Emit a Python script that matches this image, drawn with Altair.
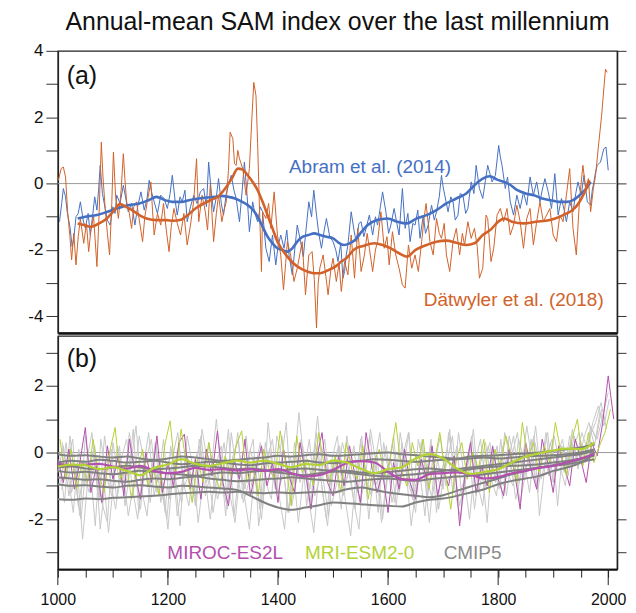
import altair as alt
import pandas as pd

# ---------------------------------------------------------------- data
TITLE = "Annual-mean SAM index over the last millennium"
YEAR_DOMAIN = [1000, 2016]
A_DOMAIN = [-4.5, 4]
B_DOMAIN = [-3.5, 3.5]
MAJOR_YEARS = [1000, 1200, 1400, 1600, 1800, 2000]
MINOR_YEARS = list(range(1000, 2001, 50))

# Panel (a): reconstructions, [year, SAM index]
ABRAM_ANNUAL = [
    [1003, -1.15], [1007, -0.60], [1010, -0.15], [1014, -0.40], [1017, -0.85], [1022, -1.30], [1026, -1.90],
    [1029, -1.65], [1033, -1.00], [1037, -0.90], [1041, -0.55], [1046, -1.10], [1050, -1.35], [1055, -0.90],
    [1059, -1.55], [1063, -1.00], [1067, -0.40], [1071, -0.80], [1074, -0.20], [1077, 0.55], [1081, -0.30],
    [1086, -0.75], [1090, -1.10], [1095, -1.25], [1100, -0.70], [1104, -0.90], [1107, -0.35], [1113, -0.60],
    [1119, -0.05], [1124, -0.50], [1128, -0.85], [1134, -0.60], [1140, -1.25], [1145, -0.70], [1151, -0.25],
    [1157, -0.80], [1162, -0.45], [1166, 0.10], [1171, -0.30], [1175, -0.55], [1181, -0.90], [1187, -0.35],
    [1193, -0.45], [1199, -0.75], [1204, -0.30], [1208, 0.25], [1213, -0.50], [1217, -0.95], [1222, -0.40],
    [1226, -0.55], [1231, -0.20], [1235, -1.15], [1241, -0.70], [1247, -0.35], [1253, -0.60], [1259, -0.25],
    [1265, -0.15], [1270, -0.70], [1274, 0.65], [1279, -0.30], [1283, -0.85], [1288, -0.40], [1292, 0.15],
    [1297, -0.60], [1301, -0.95], [1306, -0.30], [1310, -0.05], [1315, 0.25], [1320, -0.20], [1324, -0.45],
    [1330, -1.15], [1335, -0.20], [1339, 0.65], [1344, -0.40], [1348, -1.45], [1354, -0.55], [1358, -0.90],
    [1363, -1.15], [1368, -0.70], [1372, -0.85], [1378, -1.95], [1384, -2.35], [1390, -1.55], [1396, -2.45],
    [1400, -1.90], [1405, -1.55], [1411, -1.95], [1416, -1.40], [1420, -2.15], [1426, -2.75], [1431, -1.90],
    [1435, -1.25], [1441, -1.75], [1446, -2.20], [1450, -1.55], [1456, -0.55], [1461, -1.00], [1465, -0.20],
    [1470, -0.95], [1474, -1.50], [1479, -1.95], [1484, -1.40], [1488, -1.05], [1494, -1.60], [1500, -1.75],
    [1505, -2.00], [1509, -2.35], [1514, -1.80], [1518, -2.85], [1521, -2.65], [1524, -2.15], [1527, -1.85],
    [1533, -0.85], [1538, -1.40], [1542, -1.75], [1547, -1.20], [1551, -1.15], [1556, -1.60], [1560, -1.35],
    [1566, -0.95], [1572, -1.55], [1577, -1.00], [1581, -1.25], [1586, -0.70], [1590, -0.25], [1596, -0.85],
    [1601, -1.50], [1605, -1.25], [1611, -0.75], [1616, -1.20], [1620, -1.55], [1626, -0.15], [1631, -1.35],
    [1636, -0.90], [1640, -1.75], [1645, -1.20], [1649, -1.25], [1654, -0.80], [1658, -1.65], [1664, -0.95],
    [1668, -1.50], [1673, -1.25], [1679, -0.65], [1684, -1.10], [1688, -0.85], [1693, -0.40], [1697, 0.25],
    [1700, -0.10], [1703, -0.35], [1709, -0.85], [1714, -0.40], [1718, -0.55], [1722, -1.10], [1727, -0.95],
    [1731, -0.30], [1736, -0.35], [1741, -0.90], [1745, -0.75], [1751, 0.05], [1756, -0.30], [1760, 0.55],
    [1763, 0.20], [1766, -0.15], [1772, -0.45], [1777, 0.10], [1781, 0.55], [1785, 0.30], [1789, 0.05],
    [1795, 0.25], [1801, 1.15], [1804, 0.80], [1807, 0.55], [1813, -0.15], [1817, 0.20], [1822, -0.55],
    [1828, -0.95], [1834, -0.35], [1840, -0.75], [1846, -0.25], [1852, -0.65], [1858, 0.20], [1864, -0.35],
    [1870, 0.05], [1876, -0.55], [1880, -0.20], [1885, 0.15], [1891, -0.25], [1897, -0.75], [1903, 0.30],
    [1909, -0.95], [1915, -0.45], [1920, -0.80], [1924, -1.15], [1930, -0.55], [1936, -0.85], [1941, -0.30],
    [1945, 0.05], [1951, -0.35], [1956, 0.25], [1962, -0.55], [1968, -0.65], [1971, -0.20], [1974, 0.05],
    [1977, 0.35], [1980, 0.55], [1986, 0.65], [1989, 0.85], [1992, 1.05], [1996, 1.10], [2000, 0.40],
]
ABRAM_SMOOTH = [
    [1036, -1.05], [1050, -1.00], [1071, -0.95], [1090, -0.85], [1107, -0.75], [1128, -0.65], [1148, -0.60],
    [1165, -0.50], [1179, -0.40], [1195, -0.50], [1208, -0.55], [1225, -0.55], [1238, -0.50], [1256, -0.45],
    [1270, -0.42], [1285, -0.40], [1297, -0.37], [1310, -0.40], [1322, -0.45], [1335, -0.55], [1345, -0.65],
    [1355, -0.80], [1363, -1.00], [1372, -1.30], [1381, -1.60], [1390, -1.80], [1399, -1.95], [1408, -2.00],
    [1417, -2.05], [1426, -1.95], [1435, -1.75], [1445, -1.60], [1455, -1.55], [1466, -1.50], [1476, -1.55],
    [1488, -1.60], [1500, -1.65], [1512, -1.80], [1520, -1.85], [1530, -1.80], [1540, -1.70], [1552, -1.45],
    [1563, -1.25], [1580, -1.10], [1599, -1.05], [1617, -1.15], [1634, -1.20], [1652, -1.05], [1670, -0.95],
    [1688, -0.80], [1706, -0.60], [1724, -0.45], [1742, -0.30], [1757, -0.05], [1772, 0.15], [1785, 0.22],
    [1798, 0.12], [1811, 0.05], [1823, -0.05], [1835, -0.20], [1850, -0.30], [1865, -0.35], [1880, -0.45],
    [1895, -0.50], [1910, -0.55], [1925, -0.55], [1936, -0.50], [1948, -0.35], [1960, -0.15], [1968, 0.05],
]
DATWYLER_ANNUAL = [
    [1001, 0.10], [1006, 0.45], [1010, 0.50], [1014, 0.20], [1018, -0.90], [1022, -1.60], [1025, -2.30],
    [1029, -1.50], [1033, -2.45], [1037, -1.60], [1041, -1.05], [1047, -1.80], [1052, -1.20], [1056, -2.05],
    [1060, -1.40], [1065, -1.00], [1071, -2.50], [1075, -0.90], [1079, 1.25], [1082, 0.20], [1086, -0.75],
    [1090, -1.50], [1094, -2.15], [1098, -0.60], [1101, 0.95], [1105, -0.40], [1110, -1.05], [1115, -0.20],
    [1119, 0.90], [1122, 0.10], [1125, -0.55], [1130, -0.90], [1134, -1.35], [1138, -0.70], [1143, -0.55],
    [1148, -1.10], [1154, -1.75], [1158, -1.00], [1163, -0.50], [1169, 0.05], [1172, -0.80], [1175, -1.55],
    [1181, -0.90], [1187, -1.25], [1192, -0.60], [1197, -1.40], [1202, -2.05], [1206, -1.30], [1211, -0.75],
    [1217, -1.20], [1223, -1.55], [1229, -0.90], [1235, -1.85], [1241, -1.25], [1247, -0.50], [1252, 0.75],
    [1256, -1.15], [1262, -0.35], [1268, -0.85], [1272, -1.40], [1277, -0.05], [1283, -1.75], [1288, -0.90],
    [1292, -0.35], [1298, -1.15], [1302, -0.80], [1306, -0.55], [1310, 0.40], [1313, 1.55], [1318, 1.35],
    [1321, 0.60], [1324, 0.55], [1327, 1.00], [1330, 0.75], [1336, 0.45], [1342, -0.35], [1348, 0.45],
    [1352, 1.80], [1356, 3.05], [1360, 2.65], [1363, 1.20], [1366, -0.55], [1370, -2.65], [1372, -0.85],
    [1378, -1.05], [1383, -0.60], [1387, -1.35], [1393, -0.25], [1399, -1.55], [1405, -2.15], [1410, -3.20],
    [1414, -2.40], [1417, -1.75], [1423, -2.15], [1429, -2.95], [1435, -2.55], [1440, -2.10], [1444, -1.75],
    [1450, -3.35], [1456, -2.15], [1462, -2.05], [1466, -2.90], [1470, -4.35], [1473, -3.00], [1476, -2.55],
    [1482, -2.15], [1487, -2.80], [1491, -3.35], [1496, -2.60], [1500, -2.25], [1506, -2.95], [1511, -2.40],
    [1515, -3.25], [1521, -2.35], [1527, -2.75], [1533, -1.55], [1539, -2.85], [1545, -1.35], [1551, -2.65],
    [1557, -2.15], [1562, -1.50], [1566, -1.95], [1572, -2.65], [1577, -2.00], [1581, -1.75], [1587, -0.85],
    [1593, -1.95], [1598, -1.60], [1602, -2.45], [1608, -1.45], [1614, -2.15], [1620, -2.55], [1626, -3.05],
    [1631, -3.15], [1637, -1.85], [1643, -2.55], [1649, -2.15], [1655, -2.65], [1661, -1.75], [1665, -1.10],
    [1669, -0.60], [1673, -1.20], [1676, -1.75], [1682, -2.15], [1688, -1.05], [1693, -1.50], [1697, -1.65],
    [1702, -1.20], [1706, -2.15], [1712, -2.65], [1718, -1.75], [1724, -1.35], [1730, -2.15], [1735, -1.50],
    [1739, -1.85], [1745, -1.15], [1751, -1.65], [1757, -1.35], [1762, -1.90], [1766, -2.85], [1772, -2.55],
    [1778, -0.95], [1781, -1.05], [1787, -2.35], [1792, -1.95], [1798, -0.95], [1804, -0.75], [1810, -1.15],
    [1816, -0.75], [1822, -1.55], [1828, -1.25], [1834, -0.65], [1840, -1.15], [1846, -1.95], [1852, -1.05],
    [1858, -0.75], [1864, -1.85], [1870, -1.15], [1876, -0.55], [1882, -1.15], [1888, -0.95], [1894, -0.75],
    [1900, -1.55], [1906, -1.75], [1912, -0.95], [1918, -1.15], [1924, -0.35], [1930, 0.45], [1936, -1.35],
    [1942, -2.15], [1948, -0.45], [1954, 0.55], [1959, -0.15], [1964, 0.15], [1968, -0.85], [1973, -0.15],
    [1977, 0.25], [1983, 1.25], [1988, 2.05], [1992, 2.85], [1995, 3.45], [1998, 3.35],
]
DATWYLER_SMOOTH = [
    [1036, -1.20], [1048, -1.25], [1059, -1.30], [1075, -1.20], [1089, -1.05], [1100, -0.85], [1113, -0.62],
    [1124, -0.70], [1135, -0.80], [1148, -0.95], [1161, -1.05], [1180, -1.10], [1197, -1.10], [1210, -1.12],
    [1222, -1.10], [1236, -0.95], [1250, -0.75], [1265, -0.60], [1280, -0.48], [1292, -0.38], [1304, -0.15],
    [1316, 0.15], [1327, 0.45], [1336, 0.42], [1345, 0.25], [1354, 0.05], [1363, -0.20], [1372, -0.55],
    [1381, -0.95], [1390, -1.35], [1399, -1.75], [1408, -2.00], [1417, -2.20], [1428, -2.40], [1440, -2.55],
    [1453, -2.65], [1465, -2.70], [1476, -2.70], [1490, -2.62], [1506, -2.48], [1515, -2.35], [1524, -2.25],
    [1539, -1.98], [1555, -1.88], [1575, -1.80], [1590, -1.85], [1605, -1.95], [1620, -2.10], [1634, -2.20],
    [1650, -2.00], [1670, -1.85], [1688, -1.75], [1706, -1.72], [1724, -1.78], [1742, -1.85], [1757, -1.80],
    [1772, -1.55], [1787, -1.38], [1800, -1.15], [1811, -1.05], [1825, -1.15], [1846, -1.20], [1869, -1.15],
    [1894, -1.10], [1918, -0.95], [1935, -0.80], [1946, -0.60], [1956, -0.30], [1966, 0.10],
]

# Panel (b): model simulations
SMOOTH_YEARS = list(range(1000, 1976, 25))
MIROC_SMOOTH = [-0.34, -0.38, -0.36, -0.34, -0.42, -0.48, -0.40, -0.55, -0.62, -0.58, -0.46, -0.52, -0.50, -0.54,
                -0.50, -0.55, -0.50, -0.62, -0.72, -0.68, -0.52, -0.32, -0.26, -0.30, -0.58, -0.80, -0.82, -0.65,
                -0.62, -0.60, -0.66, -0.78, -0.74, -0.62, -0.55, -0.46, -0.40, -0.30, -0.18, -0.05]
MRI_SMOOTH = [-0.42, -0.36, -0.38, -0.50, -0.44, -0.55, -0.68, -0.46, -0.36, -0.20, -0.34, -0.40, -0.32, -0.24,
              -0.30, -0.24, -0.34, -0.44, -0.34, -0.38, -0.24, -0.30, -0.48, -0.62, -0.50, -0.44, -0.18, -0.05,
              -0.18, -0.48, -0.64, -0.58, -0.50, -0.30, -0.12, -0.02, 0.06, 0.12, 0.10, 0.30]
CMIP5_SMOOTH = [
    [-0.05, -0.10, -0.08, -0.12, -0.15, -0.12, -0.18, -0.22, -0.18, -0.12, -0.15, -0.20, -0.25, -0.22, -0.18,
     -0.15, -0.10, -0.12, -0.08, -0.05, -0.10, -0.08, -0.05, -0.02, 0.00, -0.05, -0.08, -0.12, -0.15, -0.18,
     -0.12, -0.10, -0.08, -0.05, -0.03, 0.00, 0.05, 0.10, 0.15, 0.25],
    [-0.30, -0.25, -0.28, -0.22, -0.25, -0.30, -0.28, -0.25, -0.30, -0.35, -0.32, -0.28, -0.30, -0.35, -0.38,
     -0.33, -0.30, -0.28, -0.25, -0.30, -0.32, -0.28, -0.25, -0.20, -0.22, -0.25, -0.28, -0.25, -0.22, -0.20,
     -0.18, -0.15, -0.18, -0.15, -0.12, -0.10, -0.08, -0.05, 0.00, 0.10],
    [-0.45, -0.42, -0.48, -0.50, -0.45, -0.40, -0.45, -0.50, -0.48, -0.44, -0.40, -0.42, -0.46, -0.50, -0.48,
     -0.52, -0.55, -0.50, -0.48, -0.52, -0.55, -0.60, -0.65, -0.70, -0.72, -0.68, -0.65, -0.60, -0.55, -0.50,
     -0.45, -0.40, -0.35, -0.30, -0.25, -0.20, -0.15, -0.10, -0.05, 0.05],
    [-0.55, -0.60, -0.58, -0.62, -0.65, -0.60, -0.55, -0.58, -0.62, -0.66, -0.70, -0.65, -0.60, -0.62, -0.58,
     -0.55, -0.60, -0.65, -0.68, -0.62, -0.58, -0.55, -0.60, -0.62, -0.58, -0.55, -0.50, -0.48, -0.52, -0.55,
     -0.50, -0.45, -0.42, -0.40, -0.38, -0.35, -0.30, -0.25, -0.18, -0.10],
    [-0.75, -0.78, -0.82, -0.80, -0.85, -0.88, -0.82, -0.78, -0.80, -0.76, -0.72, -0.78, -0.82, -0.86, -0.84,
     -0.80, -0.78, -0.74, -0.78, -0.82, -0.85, -0.88, -0.84, -0.80, -0.78, -0.82, -0.85, -0.80, -0.76, -0.72,
     -0.70, -0.65, -0.60, -0.55, -0.50, -0.45, -0.40, -0.35, -0.28, -0.20],
    [-0.95, -1.00, -0.98, -1.02, -1.05, -1.00, -0.98, -1.02, -1.05, -1.00, -1.02, -1.05, -1.08, -1.12, -1.30,
     -1.50, -1.65, -1.72, -1.65, -1.58, -1.50, -1.52, -1.55, -1.58, -1.60, -1.62, -1.50, -1.42, -1.38, -1.30,
     -1.20, -1.10, -0.95, -0.85, -0.78, -0.70, -0.55, -0.45, -0.30, -0.05],
    [-1.40, -1.42, -1.38, -1.40, -1.36, -1.34, -1.32, -1.30, -1.26, -1.22, -1.20, -1.18, -1.20, -1.18, -1.20,
     -1.22, -1.20, -1.22, -1.20, -1.18, -1.20, -1.10, -1.05, -1.12, -1.20, -1.25, -1.30, -1.34, -1.28, -1.15,
     -1.02, -0.90, -0.78, -0.65, -0.55, -0.45, -0.38, -0.30, -0.20, 0.00],
]

ANNUAL_STEP = 10
MIROC_START = 1000
MIROC_ANNUAL = [-0.2, -0.9, 0.1, -1.1, -0.3, 0.75, -1.2, -0.4, -1.5, 0.2,
                -0.8, -0.1, -1.3, 0.4, -0.6, -1.4, 0.0, -0.9, 0.5, -1.2,
                -0.3, -1.0, 0.3, 0.55, -1.1, -0.2, -1.4, 0.1, -0.7, 0.65,
                -0.9, -1.6, -0.2, -0.8, 0.4, -1.3, -0.5, 0.2, -1.0, -0.3,
                -1.5, 0.1, -0.7, -1.2, 0.3, -0.6, -1.7, -0.2, 0.6, -0.9,
                -1.3, -0.1, -1.0, 0.2, -0.7, -1.5, 0.6, -0.4, -1.2, -0.6,
                -1.8, -0.3, -1.1, 0.1, -0.9, -1.4, -0.2, -0.8, 0.2, -1.3,
                -0.5, -1.0, -0.1, -2.2, -0.6, 0.3, -1.2, -0.4, -1.0, 0.2,
                -0.8, -1.3, 0.1, -0.6, -1.7, 0.3, -0.5, -1.1, 0.4, -0.3,
                -1.2, 0.2, -0.4, -1.0, 0.4, -0.2, -0.9, 0.3, -0.1, 0.9,
                2.3, 1.0]
MRI_START = 1004
MRI_ANNUAL = [0.4, -0.8, 0.1, -1.1, -0.3, -0.9, 0.4, -0.6, -1.2, 0.0,
              0.75, -0.8, -0.3, -1.4, -0.6, 0.1, -1.0, -0.5, -1.3, 0.2,
              0.95, -0.7, 0.7, -0.4, -1.5, -0.2, -0.9, 0.3, -0.6, -1.1,
              -0.1, -0.7, 0.2, 0.65, -0.9, -0.4, -1.3, 0.1, -0.5, -0.8,
              0.65, -0.3, -1.6, 0.5, -0.6, -0.2, -1.0, 0.6, -0.4, -0.9,
              -0.1, -1.2, 0.3, -0.5, -0.8, 0.2, -1.4, -0.3, 0.1, -0.7,
              -0.2, 0.9, -0.5, -1.0, 0.3, -0.4, 0.4, -1.1, -0.3, 0.6,
              -0.6, -1.7, -0.2, 0.3, -0.8, 0.0, -0.5, 0.4, -1.2, 0.1,
              -0.4, 0.5, -0.1, -0.9, 0.9, -0.2, 0.3, -0.6, 0.2, -0.3,
              0.9, 0.0, -0.7, 0.4, 1.0, -0.4, 0.6, -0.3, 0.2, 0.6,
              1.3]
CMIP5_START = [1002, 1005, 1008, 1000, 1007]
CMIP5_ANNUAL = [
    [-0.2, -1.5, 0.5, -0.9, -2.0, -0.3, 0.6, -1.2, -0.5, -2.4, -0.8, 0.2, -1.6, -0.4, 0.8, -1.1, -1.9, -0.2, -0.9, 0.4,
     -1.4, -0.6, -2.2, 0.1, -0.8, -1.5, 0.7, -0.3, -1.8, -0.7, 0.3, -1.2, -2.1, -0.4, 0.5, -1.0, -0.2, -1.7, 0.9, -0.6,
     -1.3, -2.3, -0.1, -0.9, 0.4, -1.6, -0.5, 1.1, -0.8, -1.9, -0.3, 0.2, -1.4, -2.5, -0.6, 0.5, -1.1, -0.2, -1.8, 0.3,
     -0.7, -1.5, 0.6, -0.4, -2.2, -0.9, 0.4, -1.3, -0.1, -1.7, -0.6, 0.7, -1.2, -2.0, -0.3, 0.5, -0.9, -1.6, 0.2, -0.5,
     -1.1, 0.6, -0.2, -1.4, -0.6, 0.8, -0.3, -1.2, 0.1, -0.7, 0.5, -0.4, -1.0, 0.3, -0.2, 0.6, 0.1, 0.9, 1.4, 0.8, 1.6],
    [-0.9, 0.3, -1.2, -0.4, -2.6, -0.7, 0.1, -1.4, 0.5, -0.8, -1.7, -0.2, 0.4, -1.0, -2.0, -0.5, 0.6, -1.3, -0.3, -1.8,
     0.2, -0.9, -1.5, 0.5, -0.4, -2.1, -0.7, 0.3, -1.2, -0.1, -1.9, 0.6, -0.6, -1.4, -0.2, 0.4, -2.2, -0.8, 0.1, -1.1,
     -0.4, 0.9, -1.6, -0.7, 0.2, -1.3, -2.4, -0.5, 0.4, -1.0, -0.3, -1.7, 0.5, -0.6, -1.2, 0.1, -2.0, -0.4, 0.6, -1.1,
     -0.2, -1.6, 0.3, -0.8, -1.4, 0.4, -0.5, -2.1, -0.3, 0.5, -1.0, -0.6, 0.2, -1.5, -0.4, 0.7, -1.2, -0.2, 0.3, -0.9,
     0.4, -1.3, -0.1, 0.6, -0.8, -0.2, 0.5, -1.9, -0.4, 0.3, -0.6, 0.2, -0.3, 0.7, -0.5, 0.4, 0.9, 0.2, 1.2, 1.0],
    [0.3, -0.6, -1.8, 0.1, -1.0, -0.3, -2.2, 0.4, -0.7, -1.3, 0.2, -0.5, -1.9, -0.9, 0.5, -0.4, -1.5, 0.3, -1.1, -2.0,
     -0.2, 0.6, -0.9, -1.6, -0.3, 0.2, -1.3, -0.6, 1.0, -0.8, -1.7, -0.1, 0.4, -1.2, -2.3, -0.5, 0.3, -0.9, -1.4, 0.5,
     -0.2, -1.8, -0.7, 1.2, -0.4, -1.1, 0.3, -0.8, -2.0, -0.2, 0.5, -1.3, -0.6, 0.2, -1.5, -0.9, 0.7, -0.3, -2.1, -0.7,
     0.3, -1.0, -0.4, 0.6, -1.6, -0.2, -0.9, 0.4, -1.8, -0.5, 0.1, -1.2, 0.6, -0.7, -2.0, -0.3, 0.4, -1.1, -0.6, 0.2,
     -1.4, -0.3, 0.5, -0.9, 0.1, -0.5, 0.8, -0.8, -0.1, 0.4, -1.6, 0.2, -0.4, 0.5, 0.0, -0.3, 0.8, 0.4, 1.3],
    [-0.6, 0.2, -1.3, -0.4, -1.9, 0.5, -0.8, -0.2, -1.5, -2.1, 0.3, -0.7, -1.1, 0.6, -0.5, -1.7, -0.2, 0.4, -1.2, -0.8,
     -2.3, -0.4, 0.2, -1.0, -0.6, -1.6, 0.5, -0.9, -0.3, -1.4, -0.8, 0.7, -1.9, -0.5, -1.1, 0.1, -0.7, -2.0, -0.2, 0.4,
     -1.2, -0.6, -1.8, 0.3, -0.9, -0.3, -1.5, 0.6, -1.1, -2.2, -0.4, 0.2, -1.0, -0.5, -1.7, 0.4, -0.8, -1.3, -0.1, -2.0,
     -0.6, 0.5, -1.2, -0.3, -0.9, -1.8, 0.3, -0.7, -1.4, -0.2, -1.1, 0.6, -0.5, -1.6, -0.8, 0.2, -1.3, -0.4, -2.1, 0.1,
     -0.7, -1.0, 0.5, -0.3, -1.5, -0.6, 0.4, -1.1, -0.2, 0.6, -0.9, 0.2, -0.6, 0.5, -0.4, 0.3, -0.2, 0.7, 0.4, 1.1, 1.8],
    [-1.1, -0.3, 0.4, -1.6, -0.6, -1.2, 0.2, -2.3, -0.7, 0.1, -1.4, -0.5, -0.9, 0.7, -1.8, -0.3, -1.0, 0.3, -1.5, -0.6,
     0.1, -1.9, -0.8, -0.2, -1.3, 0.4, -0.7, -2.0, -0.4, 0.2, -1.2, -0.6, 0.6, -1.5, -0.9, -0.1, -1.7, 0.3, -0.5, -1.1,
     0.5, -0.8, -0.3, -2.1, -0.6, 0.4, -1.3, -0.7, 0.0, -1.6, -0.9, 0.3, -0.4, -1.4, -2.3, -0.2, 0.5, -1.0, -0.6, 0.2,
     -1.5, -0.8, -0.1, 0.6, -1.2, -0.5, -1.9, 0.2, -0.7, -1.0, -0.3, 0.5, -1.4, -0.9, 0.1, -1.7, -0.4, 0.3, -0.8, -1.3,
     0.2, -0.6, -1.0, 0.4, -0.2, -1.2, 0.3, -0.5, 0.6, -0.9, -0.1, 0.4, -0.7, 0.2, 0.6, -0.3, 0.5, 0.9, 1.5, 0.7],
]

# text annotations: [text, year, value]
A_LABELS = [["Abram et al. (2014)", 1420, 0.51], ["Dätwyler et al. (2018)", 1665, -3.5]]
B_LABELS = [["MIROC-ES2L", 1199, -3.03], ["MRI-ESM2-0", 1449, -3.03], ["CMIP5", 1701, -3.03]]

# ---------------------------------------------------------------- style
FONT = "Liberation Sans"
BLUE = "#4570c2"
ORANGE = "#d2622a"
PURPLE = "#b34fae"
GREEN = "#b3d236"
GRAY = "#808080"
LABEL_GRAY = "#8a8a8a"
LIGHT = "#c8c8c8"
ZERO = "#9a9a9a"
INK = "#222222"
W, HA, HB = 561, 283, 234
LABEL_SIZE = 19
PANEL_SIZE = 25

x_scale = alt.Scale(domain=YEAR_DOMAIN, nice=False, zero=False)
ya = alt.Scale(domain=A_DOMAIN, nice=False, zero=False)
yb = alt.Scale(domain=B_DOMAIN, nice=False, zero=False)


def frame(pairs, name):
    return pd.DataFrame(pairs, columns=["year", "value"]).assign(series=name)


def line(df, color, width, yscale, interp="linear"):
    return alt.Chart(df).mark_line(
        color=color, strokeWidth=width, interpolate=interp, strokeJoin="round"
    ).encode(
        x=alt.X("year:Q", scale=x_scale, axis=None),
        y=alt.Y("value:Q", scale=yscale, axis=None),
        detail="series:N",
    )


def label(text, year, value, color, size, yscale):
    df = pd.DataFrame({"text": [text], "year": [year], "value": [value]})
    return alt.Chart(df).mark_text(
        align="left", baseline="middle", font=FONT, fontSize=size, color=color
    ).encode(
        x=alt.X("year:Q", scale=x_scale, axis=None),
        y=alt.Y("value:Q", scale=yscale, axis=None),
        text="text:N",
    )


def axes(yscale, yvals, xaxis):
    zero = pd.DataFrame({"year": [YEAR_DOMAIN[0]], "value": [0.0]})
    left = alt.Chart(zero).mark_rule(color=ZERO, strokeWidth=1).encode(
        y=alt.Y("value:Q", scale=yscale, axis=alt.Axis(
            orient="left", values=yvals, title=None, tickSize=12, labelPadding=3,
            labelExpr="datum.value % 2 === 0 ? '' + datum.value : ''", labelFontSize=17,
            minExtent=49, maxExtent=49, domainWidth=1.5)),
    )
    right = alt.Chart(zero).mark_point(opacity=0).encode(
        y=alt.Y("value:Q", scale=yscale, axis=alt.Axis(
            orient="right", values=yvals, title=None, labels=False, tickSize=9,
            domainWidth=1.5)),
        x=alt.X("year:Q", scale=x_scale, axis=xaxis),
    )
    return [left, right]


# ---------------------------------------------------------------- panel (a)
a_layers = axes(ya, list(range(-4, 5)), alt.Axis(
    orient="bottom", labels=False, ticks=False, title=None, domainWidth=2.5,
    domainColor="#111111", minExtent=1, maxExtent=1))
a_layers += [
    line(frame(ABRAM_ANNUAL, "abram"), BLUE, 1, ya),
    line(frame(DATWYLER_ANNUAL, "datwyler"), ORANGE, 1, ya),
    line(frame(ABRAM_SMOOTH, "abram_s"), BLUE, 2.6, ya, "monotone"),
    line(frame(DATWYLER_SMOOTH, "datwyler_s"), ORANGE, 2.6, ya, "monotone"),
]
for (txt, yr, val), col in zip(A_LABELS, [BLUE, ORANGE]):
    a_layers.append(label(txt, yr, val, col, LABEL_SIZE, ya))
a_layers.append(label("(a)", 1016, 3.24, "#111111", PANEL_SIZE, ya))

panel_a = alt.layer(*a_layers).resolve_axis(x="independent", y="independent").properties(
    width=W, height=HA,
    title=alt.TitleParams(TITLE, font=FONT, fontSize=25, fontWeight="normal", color="#111111",
                          anchor="middle", frame="group", offset=7),
)

# ---------------------------------------------------------------- panel (b)
b_layers = axes(yb, list(range(-3, 4)), alt.Axis(
    orient="bottom", values=MINOR_YEARS, title=None, domainWidth=2, domainColor="#111111",
    labelExpr="datum.value % 200 === 0 ? '' + datum.value : ''", labelFlush=False,
    tickSize=8, tickColor=INK, labelPadding=14, labelFontSize=16))

# long ticks for the labelled (major) years, hanging below the axis line
major = alt.Chart(pd.DataFrame({"year": MAJOR_YEARS})).mark_rule(color=INK, strokeWidth=1).encode(
    x=alt.X("year:Q", scale=x_scale, axis=None),
    y=alt.value(HB),
    y2=alt.value(HB + 16),
)

gray_thin = pd.concat([
    frame([[CMIP5_START[k] + ANNUAL_STEP * i, v] for i, v in enumerate(vals)], f"c{k}")
    for k, vals in enumerate(CMIP5_ANNUAL)
])
miroc_thin = frame([[MIROC_START + ANNUAL_STEP * i, v] for i, v in enumerate(MIROC_ANNUAL)], "miroc")
mri_thin = frame([[MRI_START + ANNUAL_STEP * i, v] for i, v in enumerate(MRI_ANNUAL)], "mri")
gray_thick = pd.concat([
    frame(list(zip(SMOOTH_YEARS, vals)), f"g{k}") for k, vals in enumerate(CMIP5_SMOOTH)
])
miroc_thick = frame(list(zip(SMOOTH_YEARS, MIROC_SMOOTH)), "miroc_s")
mri_thick = frame(list(zip(SMOOTH_YEARS, MRI_SMOOTH)), "mri_s")

b_layers += [
    major,
    line(gray_thin, LIGHT, 1, yb),
    line(miroc_thin, PURPLE, 1, yb),
    line(mri_thin, GREEN, 1, yb),
    line(gray_thick, GRAY, 2, yb, "monotone"),
    line(miroc_thick, PURPLE, 2.2, yb, "monotone"),
    line(mri_thick, GREEN, 2.2, yb, "monotone"),
]
for (txt, yr, val), col in zip(B_LABELS, [PURPLE, GREEN, LABEL_GRAY]):
    b_layers.append(label(txt, yr, val, col, LABEL_SIZE, yb))
b_layers.append(label("(b)", 1016, 2.82, "#111111", PANEL_SIZE, yb))

panel_b = alt.layer(*b_layers).resolve_axis(x="independent", y="independent").properties(width=W, height=HB)

chart = alt.vconcat(panel_a, panel_b, spacing=0).properties(padding=0).configure_view(
    stroke=INK, strokeWidth=1.2
).configure_axis(
    labelFont=FONT, labelFontSize=16, labelColor="#111111", domainColor=INK,
    tickColor="#333333", grid=False
)

chart.save("out.html", embed_options={"renderer": "svg", "actions": False})
